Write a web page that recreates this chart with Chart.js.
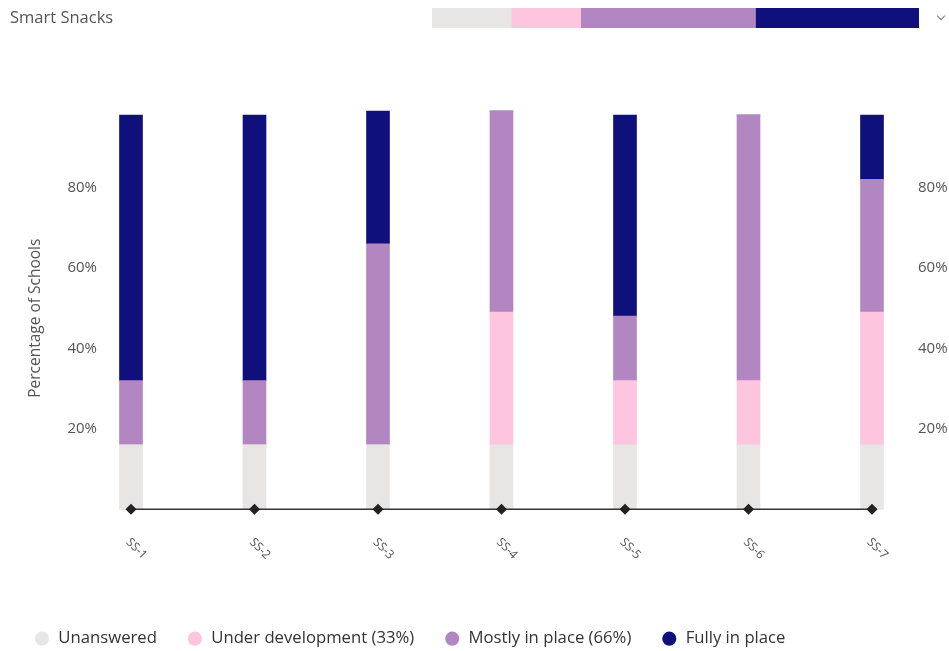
<!DOCTYPE html>
<html>
<head>
<meta charset="utf-8">
<title>Smart Snacks</title>
<script src="https://cdn.jsdelivr.net/npm/chart.js@4"></script>
<style>
  body { margin: 0; background: #fff; overflow: hidden; font-family: 'Open Sans', sans-serif; }
  #mainWrap { position: absolute; left: 0; top: 0; width: 949px; height: 657px; }
  #title { position: absolute; left: 10px; top: 5px; font-size: 16.5px; color: #555; }
  #summaryWrap { position: absolute; left: 432px; top: 8px; width: 487px; height: 20px; }
  #chevron { position: absolute; left: 938px; top: 13px; width: 5px; height: 5px;
    border-right: 1.5px solid #777; border-bottom: 1.5px solid #777; transform: rotate(45deg); }
</style>
</head>
<body>
<div id="mainWrap"><canvas id="statusChart"></canvas></div>
<div id="title">Smart Snacks</div>
<div id="summaryWrap"><canvas id="summaryChart"></canvas></div>
<div id="chevron"></div>
<script>
const categories = ["SS-1", "SS-2", "SS-3", "SS-4", "SS-5", "SS-6", "SS-7"];
const unanswered = [16, 16, 16, 16, 16, 16, 16];
const underDevelopment = [0, 0, 0, 33, 16, 16, 33];
const mostlyInPlace = [16, 16, 50, 50, 16, 66, 33];
const fullyInPlace = [66, 66, 33, 0, 50, 0, 16];
const baseline = [0, 0, 0, 0, 0, 0, 0];
const yTicks = [20, 40, 60, 80];

const statusLabels = ["Unanswered", "Under development (33%)", "Mostly in place (66%)", "Fully in place"];
const statusSeries = [unanswered, underDevelopment, mostlyInPlace, fullyInPlace];
const statusColors = ["#e8e5e5", "#fec5df", "#b286c1", "#0f107b"];

Chart.defaults.font.family = "'Open Sans', sans-serif";

const sum = arr => arr.reduce((a, b) => a + b, 0);

// category labels run down to the right from each tick
const slantedLabels = {
  id: "slantedLabels",
  afterDraw(chart) {
    const { ctx, chartArea, scales: { x } } = chart;
    ctx.save();
    ctx.font = "12px 'Open Sans'";
    ctx.fillStyle = "#555";
    ctx.textAlign = "left";
    ctx.textBaseline = "middle";
    categories.forEach((label, i) => {
      ctx.save();
      ctx.translate(x.getPixelForTick(i) - 3, chartArea.bottom + 31);
      ctx.rotate(Math.PI / 4);
      ctx.fillText(label, 0, 0);
      ctx.restore();
    });
    ctx.restore();
  }
};

const percentTicks = (padding) => ({
  padding: padding,
  color: "#555",
  font: { size: 15 },
  callback: v => v + "%"
});

const barSets = statusLabels.map((label, i) => ({
  type: "bar",
  label: label,
  data: statusSeries[i],
  backgroundColor: statusColors[i],
  borderWidth: 0,
  barThickness: 23,
  order: 1,
  clip: false
}));

new Chart(document.getElementById("statusChart"), {
  data: {
    labels: categories,
    datasets: [
      ...barSets,
      {
        type: "line",
        label: "baseline",
        data: baseline,
        stack: "baseline",
        borderColor: "#333",
        borderWidth: 1.5,
        pointStyle: "rectRot",
        pointRadius: 4.5,
        pointBackgroundColor: "#222",
        pointBorderColor: "#222",
        order: 0,
        clip: false
      }
    ]
  },
  options: {
    responsive: true,
    maintainAspectRatio: false,
    animation: false,
    layout: { padding: { top: 107, left: 4, right: 0, bottom: 0 } },
    plugins: {
      legend: {
        position: "bottom",
        align: "start",
        labels: {
          usePointStyle: true,
          pointStyle: "circle",
          boxWidth: 16,
          boxHeight: 10,
          padding: 30,
          color: "#333",
          font: { size: 16.7 },
          filter: item => item.datasetIndex < statusLabels.length
        }
      },
      tooltip: { enabled: false }
    },
    scales: {
      x: {
        stacked: true,
        offset: false,
        grid: { display: false, drawTicks: false },
        border: { display: false },
        ticks: { display: false },
        afterFit: s => { s.height = 91; }
      },
      y: {
        stacked: true,
        position: "left",
        min: 0,
        max: 100,
        grid: { display: false, drawTicks: false },
        border: { display: false },
        ticks: percentTicks(34),
        afterBuildTicks: s => { s.ticks = yTicks.map(v => ({ value: v })); },
        afterFit: s => { s.width = 127; },
        title: {
          display: true,
          // trailing spaces nudge the centred title a little lower
          text: "Percentage of Schools\u00a0\u00a0\u00a0\u00a0\u00a0",
          color: "#555",
          font: { size: 15.5 },
          padding: { top: 22 }
        }
      },
      y2: {
        position: "right",
        min: 0,
        max: 100,
        grid: { display: false, drawTicks: false },
        border: { display: false },
        ticks: percentTicks(46),
        afterBuildTicks: s => { s.ticks = yTicks.map(v => ({ value: v })); },
        afterFit: s => { s.width = 77; }
      }
    }
  },
  plugins: [slantedLabels]
});

// overall share of each status across all standards
new Chart(document.getElementById("summaryChart"), {
  type: "bar",
  data: {
    labels: ["All"],
    datasets: statusLabels.map((label, i) => ({
      label: label,
      data: [sum(statusSeries[i])],
      backgroundColor: statusColors[i],
      barPercentage: 1,
      categoryPercentage: 1
    }))
  },
  options: {
    indexAxis: "y",
    responsive: true,
    maintainAspectRatio: false,
    animation: false,
    plugins: { legend: { display: false }, tooltip: { enabled: false } },
    scales: {
      x: { stacked: true, display: false, min: 0, max: sum(statusSeries.map(sum)) },
      y: { stacked: true, display: false }
    }
  }
});
</script>
</body>
</html>
